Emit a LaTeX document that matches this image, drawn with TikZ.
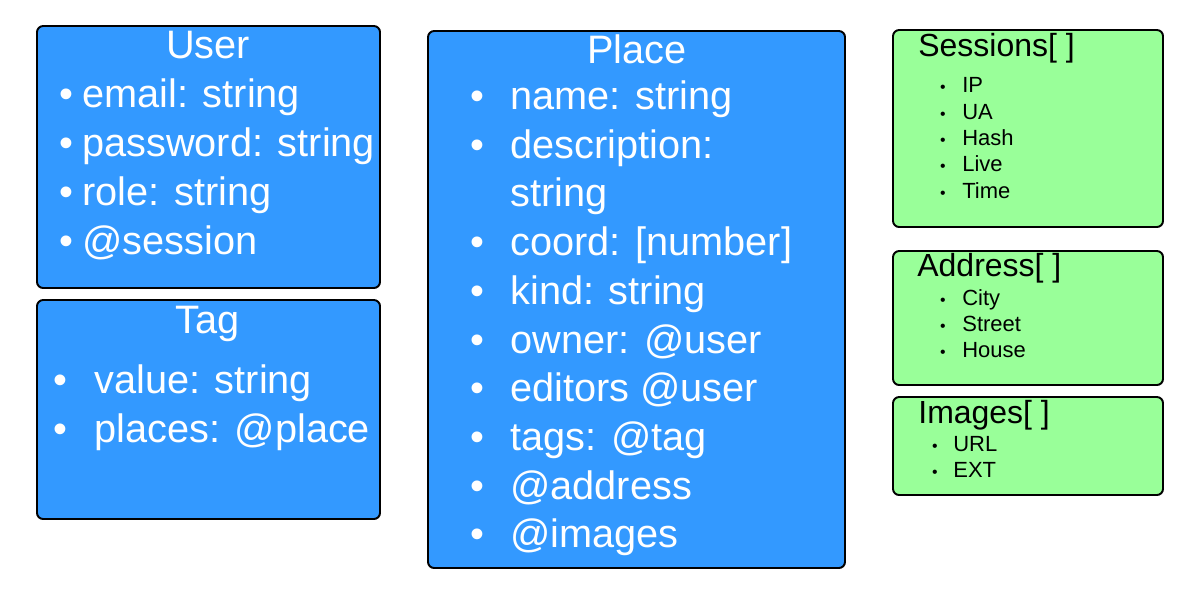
\documentclass[tikz,border=0pt]{standalone}
\usepackage{fontspec}
\setmainfont{Liberation Sans}
\usetikzlibrary{fit}
\definecolor{entityblue}{HTML}{3399FF}
\definecolor{entitygreen}{HTML}{99FF99}
\tikzset{
  entitybox/.style={draw=black, line width=1.1pt, rounded corners=3.5pt, inner sep=0pt},
  bluebox/.style={entitybox, fill=entityblue},
  greenbox/.style={entitybox, fill=entitygreen},
  bigtxt/.style={text=white, font=\fontsize{22.6}{27}\selectfont, inner sep=0pt, anchor=base west},
  bigtitle/.style={bigtxt, anchor=base},
  bigdot/.style={bigtxt, anchor=base},
  smalltitle/.style={font=\fontsize{18.2}{22}\selectfont, inner sep=0pt, anchor=base west},
  smalltxt/.style={font=\fontsize{12.5}{15}\selectfont, inner sep=0pt, anchor=base west},
  smalldot/.style={smalltxt, font=\fontsize{9}{11}\selectfont, anchor=base}
}
\begin{document}
\begin{tikzpicture}[x=0.02cm, y=-0.02cm]
  \useasboundingbox (0,0) rectangle (1196,593);
  % left column
  \node[bluebox, fit={(37,26) (380,288)}] (user) {};
  \node[bigtitle] (user-title) at (208,58) {User};
  \foreach \txt [count=\i] in {email: string, password: string, role: string, @session} {
    \node[bigdot] (user-dot\i) at (66,{58+49*\i}) {\textbullet};
    \node[bigtxt] (user-\i) at (82,{58+49*\i}) {\txt};
  }
  \node[bluebox, fit={(37,300) (380,519)}] (tag) {};
  \node[bigtitle] (tag-title) at (208,333) {Tag};
  \foreach \txt [count=\i] in {value: string, places: @place} {
    \node[bigdot] (tag-dot\i) at (60,{344+49*\i}) {\textbullet};
    \node[bigtxt] (tag-\i) at (94,{344+49*\i}) {\txt};
  }
  % middle column
  \node[bluebox, fit={(428,31) (845,568)}] (place) {};
  \node[bigtitle] (place-title) at (637,63) {Place};
  \foreach \txt [count=\i] in {name: string, description:, string, coord: [number],
      kind: string, owner: @user, editors @user, tags: @tag, @address, @images}
    \node[bigtxt] (place-\i) at (510,{60.8+48.7*\i}) {\txt};
  \foreach \i in {1,2,4,5,6,7,8,9,10}
    \node[bigdot] (place-dot\i) at (477,{60.8+48.7*\i}) {\textbullet};
  % right column
  \node[greenbox, fit={(893,30) (1163,227)}] (sessions) {};
  \node[smalltitle] (sessions-title) at (918,56) {Sessions[ ]};
  \foreach \txt [count=\i] in {IP, UA, Hash, Live, Time} {
    \node[smalldot] (sessions-dot\i) at (943,{66.5+26.3*\i}) {\textbullet};
    \node[smalltxt] (sessions-\i) at (962,{66.5+26.3*\i}) {\txt};
  }
  \node[greenbox, fit={(893,251) (1163,385)}] (address) {};
  \node[smalltitle] (address-title) at (917,276) {Address[ ]};
  \foreach \txt [count=\i] in {City, Street, House} {
    \node[smalldot] (address-dot\i) at (943,{279+26.3*\i}) {\textbullet};
    \node[smalltxt] (address-\i) at (962,{279+26.3*\i}) {\txt};
  }
  \node[greenbox, fit={(893,397) (1163,495)}] (images) {};
  \node[smalltitle] (images-title) at (918,423) {Images[ ]};
  \foreach \txt [count=\i] in {URL, EXT} {
    \node[smalldot] (images-dot\i) at (935,{425+26.3*\i}) {\textbullet};
    \node[smalltxt] (images-\i) at (953,{425+26.3*\i}) {\txt};
  }
\end{tikzpicture}
\end{document}
